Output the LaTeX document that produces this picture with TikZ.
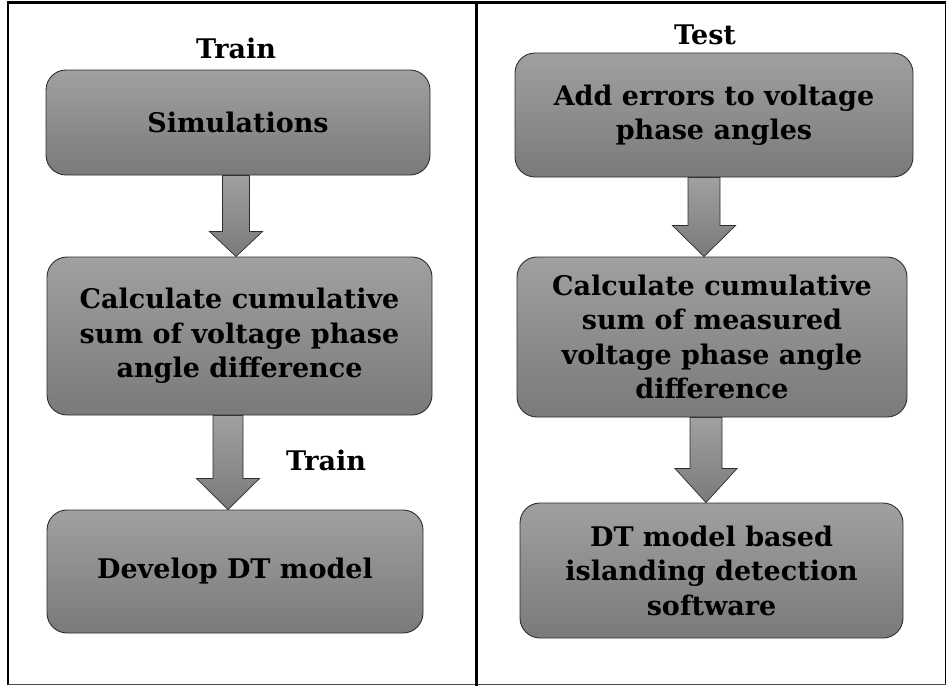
\documentclass[tikz,border=0pt]{standalone}
\usepackage{fontspec}
\setmainfont{DejaVu Serif}
\usetikzlibrary{calc,backgrounds}

\definecolor{boxtop}{RGB}{160,160,160}
\definecolor{boxbot}{RGB}{122,122,122}
\definecolor{edge}{RGB}{45,45,45}

\tikzset{
  stepbox/.style={draw=edge, line width=0.9pt, rounded corners=20pt,
    top color=boxtop, bottom color=boxbot, align=center, inner sep=0pt,
    font=\fontsize{27}{34.5}\selectfont\bfseries},
  paneltitle/.style={font=\fontsize{27}{34.5}\selectfont\bfseries, inner sep=0pt},
  blockarrow/.style={draw=edge, line width=0.7pt, top color=boxtop, bottom color=boxbot},
}

% block arrow from the bottom of #1 to the top of #2
% #3 horizontal offset, #4 half shaft width, #5 half head width, #6 head length
\newcommand\blockarr[6]{%
  \coordinate (ac) at ($(#1.south)+(#3,0)$);
  \path[blockarrow] let \p1=(ac), \p2=(#2.north) in
    (\x1-#4pt,\y1) -- (\x1-#4pt,\y2+#6pt) -- (\x1-#5pt,\y2+#6pt) -- (\x1,\y2)
    -- (\x1+#5pt,\y2+#6pt) -- (\x1+#4pt,\y2+#6pt) -- (\x1+#4pt,\y1) -- cycle;
}

\begin{document}
\begin{tikzpicture}[x=1pt,y=-1pt]
\useasboundingbox (0,0) rectangle (947,686);

% outer frame and divider
\draw[line width=3pt] (6.5,2) -- (946,2);
\draw[line width=1.5pt] (8,2) -- (8,685);
\draw[line width=1.5pt] (945.5,2) -- (945.5,685);
\draw[line width=1.2pt, draw=black!70] (8,684.5) -- (946,684.5);
\draw[line width=3pt] (476,2) -- (476,686);

% left panel
\node[paneltitle] (trainA) at (236,48) {Train};
\node[stepbox, minimum width=384pt, minimum height=105pt] (sim) at (238,122.5) {Simulations};
\node[stepbox, minimum width=385pt, minimum height=158pt] (calcA) at (239.5,336)
  {Calculate cumulative\\sum of voltage phase\\angle difference};
\node[stepbox, minimum width=376pt, minimum height=123pt] (dev) at (235,571.5) {Develop DT model};
\node[paneltitle] (trainB) at (326,460) {Train};

% right panel
\node[paneltitle] (test) at (705,35) {Test};
\node[stepbox, minimum width=398pt, minimum height=124pt] (adderr) at (714,115)
  {Add errors to voltage\\phase angles};
\node[stepbox, minimum width=390pt, minimum height=160pt] (calcB) at (712,337)
  {Calculate cumulative\\sum of measured\\voltage phase angle\\difference};
\node[stepbox, minimum width=383pt, minimum height=135pt] (dt) at (711.5,570.5)
  {DT model based\\islanding detection\\software};

% connectors
\begin{scope}[on background layer]
  \blockarr{sim}{calcA}{-2}{13.5}{26.5}{25}
  \blockarr{calcA}{dev}{-11.5}{15}{31.5}{31}
  \blockarr{adderr}{calcB}{-10}{16}{31.5}{31}
  \blockarr{calcB}{dt}{-6}{16}{31}{34}
\end{scope}
\end{tikzpicture}
\end{document}
